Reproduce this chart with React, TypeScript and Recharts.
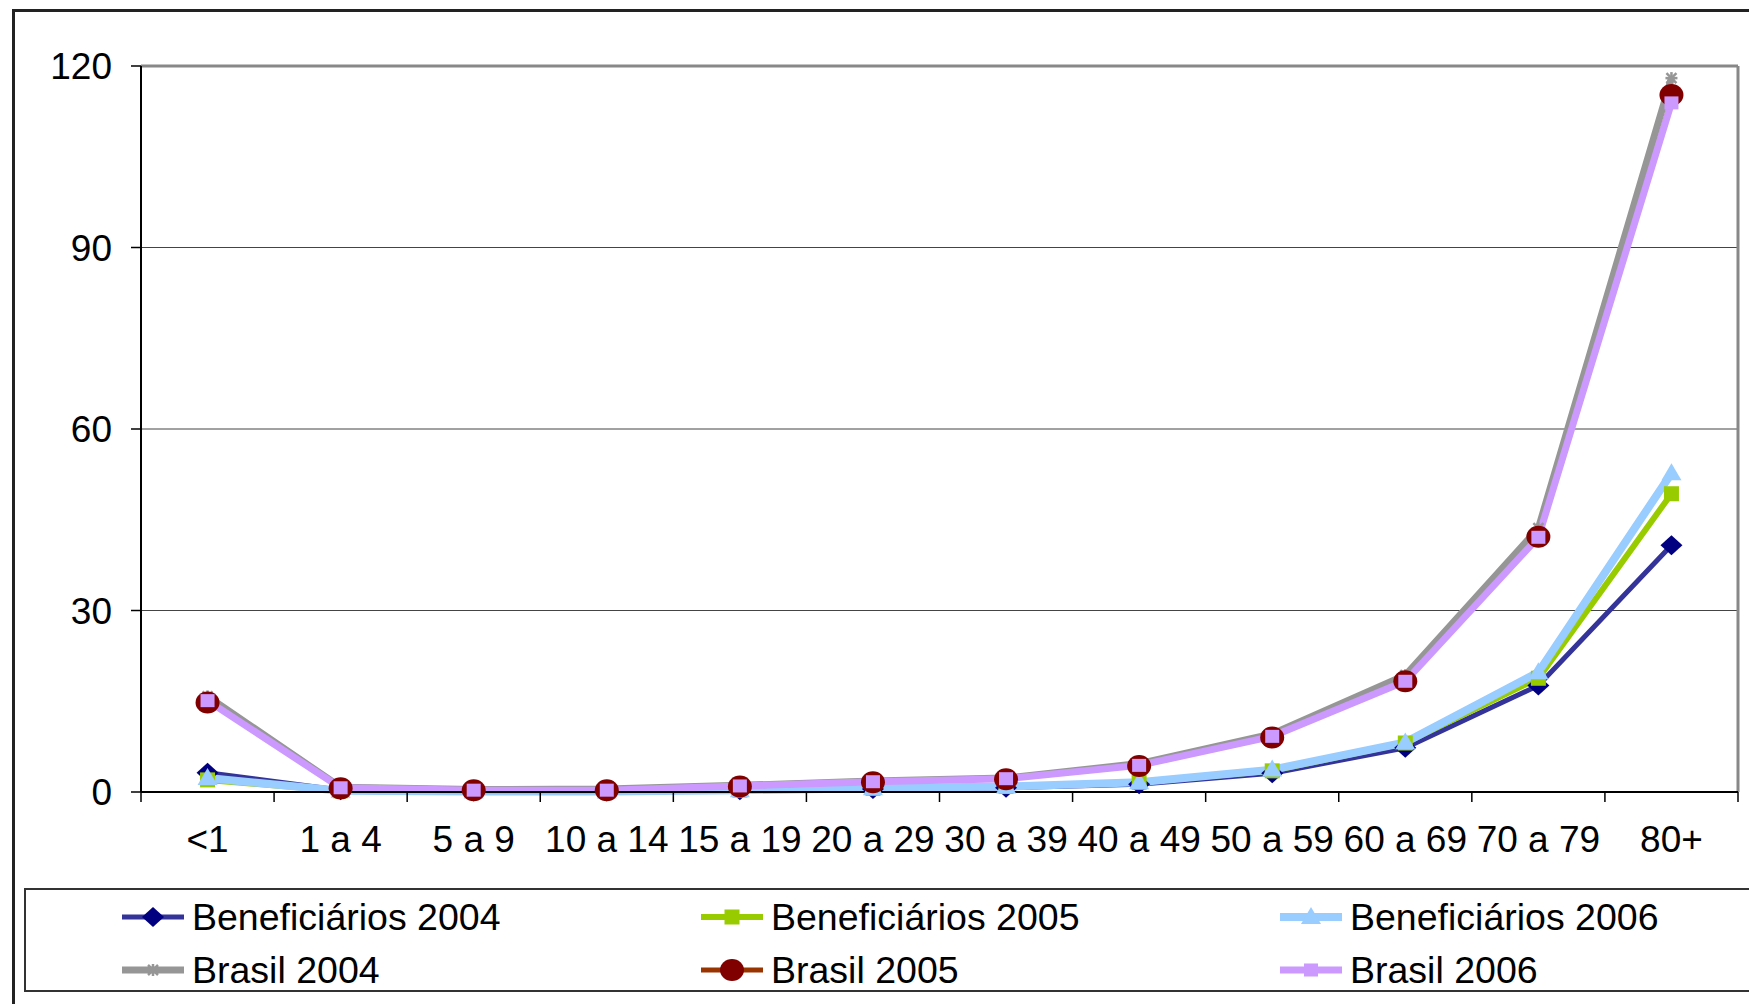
import { LineChart, Line, XAxis, YAxis, CartesianGrid, ReferenceLine } from 'recharts'

const categories = ['<1', '1 a 4', '5 a 9', '10 a 14', '15 a 19', '20 a 29', '30 a 39', '40 a 49', '50 a 59', '60 a 69', '70 a 79', '80+']

const benef2004 = [3.2, 0.3, 0.1, 0.1, 0.3, 0.5, 0.7, 1.3, 3.1, 7.3, 17.6, 40.8]
const benef2005 = [2.0, 0.2, 0.1, 0.1, 0.3, 0.6, 0.9, 1.6, 3.5, 8.1, 18.8, 49.3]
const benef2006 = [2.3, 0.2, 0.1, 0.1, 0.3, 0.6, 0.9, 1.6, 3.7, 8.2, 19.8, 52.7]
const brasil2004 = [15.8, 0.8, 0.4, 0.5, 1.1, 1.8, 2.3, 4.7, 9.6, 19.3, 43.6, 118.0]
const brasil2005 = [14.8, 0.6, 0.3, 0.3, 0.9, 1.6, 2.1, 4.3, 9.0, 18.3, 42.2, 115.2]
const brasil2006 = [15.1, 0.7, 0.3, 0.3, 1.0, 1.7, 2.2, 4.4, 9.2, 18.3, 42.1, 113.9]

const yTicks = [0, 30, 60, 90, 120]

type Marker = 'diamond' | 'square' | 'triangle' | 'star' | 'circle' | 'smallSquare'

interface Serie {
  key: string
  name: string
  values: number[]
  stroke: string
  width: number
  marker: Marker
  markerColor: string
}

const seriesList: Serie[] = [
  { key: 'b2004', name: 'Beneficiários 2004', values: benef2004, stroke: '#333399', width: 5, marker: 'diamond', markerColor: '#000080' },
  { key: 'b2005', name: 'Beneficiários 2005', values: benef2005, stroke: '#99CC00', width: 6, marker: 'square', markerColor: '#99CC00' },
  { key: 'b2006', name: 'Beneficiários 2006', values: benef2006, stroke: '#99CCFF', width: 8, marker: 'triangle', markerColor: '#99CCFF' },
  { key: 'br2004', name: 'Brasil 2004', values: brasil2004, stroke: '#969696', width: 7, marker: 'star', markerColor: '#969696' },
  { key: 'br2005', name: 'Brasil 2005', values: brasil2005, stroke: '#993300', width: 2, marker: 'circle', markerColor: '#800000' },
  { key: 'br2006', name: 'Brasil 2006', values: brasil2006, stroke: '#CC99FF', width: 7, marker: 'smallSquare', markerColor: '#CC99FF' },
]

const data = categories.map((cat, i) => {
  const row: any = { x: i + 0.5, cat }
  seriesList.forEach((s) => {
    row[s.key] = s.values[i]
  })
  return row
})

const xTicks = Array.from({ length: categories.length * 2 + 1 }, (_, i) => i / 2)

const FONT = '"Liberation Sans", Arial, sans-serif'

function drawMarker(kind: Marker, cx: number, cy: number, color: string, key?: string) {
  switch (kind) {
    case 'diamond':
      return <polygon key={key} points={`${cx},${cy - 10} ${cx + 11},${cy} ${cx},${cy + 10} ${cx - 11},${cy}`} fill={color} />
    case 'square':
      return <rect key={key} x={cx - 7.5} y={cy - 7.5} width={15} height={15} fill={color} />
    case 'triangle':
      return <polygon key={key} points={`${cx},${cy - 10} ${cx + 10},${cy + 7} ${cx - 10},${cy + 7}`} fill={color} />
    case 'star':
      return (
        <g key={key} stroke={color} strokeWidth={2.5}>
          <line x1={cx - 6} x2={cx + 6} y1={cy} y2={cy} />
          <line x1={cx} x2={cx} y1={cy - 6} y2={cy + 6} />
          <line x1={cx - 5} x2={cx + 5} y1={cy - 5} y2={cy + 5} />
          <line x1={cx - 5} x2={cx + 5} y1={cy + 5} y2={cy - 5} />
        </g>
      )
    case 'circle':
      return <ellipse key={key} cx={cx} cy={cy} rx={12} ry={11} fill={color} />
    case 'smallSquare':
      return <rect key={key} x={cx - 7} y={cy - 6.5} width={14} height={13} fill={color} />
  }
}

const XTick = (props: any) => {
  const { x, y, payload } = props
  const v = payload.value as number
  if (Number.isInteger(v)) {
    return <line x1={x} x2={x} y1={y} y2={y + 10} stroke="#000" strokeWidth={1.5} />
  }
  return (
    <text x={x} y={y + 47} textAnchor="middle" dominantBaseline="central" fontSize={37} fontFamily={FONT} fill="#000">
      {categories[Math.floor(v)]}
    </text>
  )
}

function LegendBox() {
  const cols = [96, 675, 1254]
  const rows = [27, 80]
  return (
    <div
      style={{
        position: 'absolute',
        left: 24,
        top: 888,
        width: 1740,
        height: 100,
        borderTop: '2px solid #333',
        borderBottom: '2px solid #333',
        borderLeft: '2px solid #333',
        fontFamily: FONT,
      }}
    >
      {seriesList.map((s, i) => {
        const left = cols[i % 3]
        const top = rows[Math.floor(i / 3)]
        return (
          <div key={s.key} style={{ position: 'absolute', left, top: top - 20, height: 40, display: 'flex', alignItems: 'center' }}>
            <svg width={62} height={40}>
              <line x1={0} x2={62} y1={20} y2={20} stroke={s.stroke} strokeWidth={Math.max(s.width, 5)} />
              {drawMarker(s.marker, 31, 20, s.markerColor)}
            </svg>
            <span style={{ marginLeft: 8, fontSize: 37.5, color: '#000', whiteSpace: 'nowrap' }}>{s.name}</span>
          </div>
        )
      })}
    </div>
  )
}

export default function App() {
  return (
    <div style={{ position: 'absolute', left: 0, top: 0, width: 1749, height: 1004, background: '#fff', overflow: 'hidden' }}>
      <div
        style={{
          position: 'absolute',
          left: 12,
          top: 9,
          width: 1760,
          height: 1010,
          borderLeft: '3px solid #222',
          borderTop: '3px solid #222',
        }}
      />
      <div style={{ position: 'absolute', left: 0, top: 0 }}>
        <LineChart width={1749} height={1004} data={data} margin={{ top: 66, right: 11, bottom: 211, left: 81 }}>
          <CartesianGrid horizontal vertical={false} stroke="#444" strokeWidth={1} />
          <XAxis
            type="number"
            dataKey="x"
            domain={[0, 12]}
            ticks={xTicks}
            interval={0}
            height={1}
            tickSize={0}
            tickMargin={0}
            tickLine={false}
            axisLine={{ stroke: '#000', strokeWidth: 2 }}
            tick={<XTick />}
          />
          <YAxis
            domain={[0, 120]}
            ticks={yTicks}
            interval={0}
            width={60}
            tickSize={10}
            tickMargin={19}
            axisLine={{ stroke: '#000', strokeWidth: 2 }}
            tickLine={{ stroke: '#000', strokeWidth: 1.5 }}
            tick={{ fontSize: 37, fontFamily: FONT, fill: '#000' }}
          />
          <ReferenceLine y={120} stroke="#888" strokeWidth={3} />
          <ReferenceLine x={12} stroke="#888" strokeWidth={3} />
          {seriesList.map((s) => (
            <Line
              key={s.key}
              dataKey={s.key}
              name={s.name}
              type="linear"
              stroke={s.stroke}
              strokeWidth={s.width}
              isAnimationActive={false}
              dot={(p: any) => drawMarker(s.marker, p.cx, p.cy, s.markerColor, `${s.key}-${p.index}`)}
              activeDot={false}
            />
          ))}
        </LineChart>
      </div>
      <LegendBox />
    </div>
  )
}
